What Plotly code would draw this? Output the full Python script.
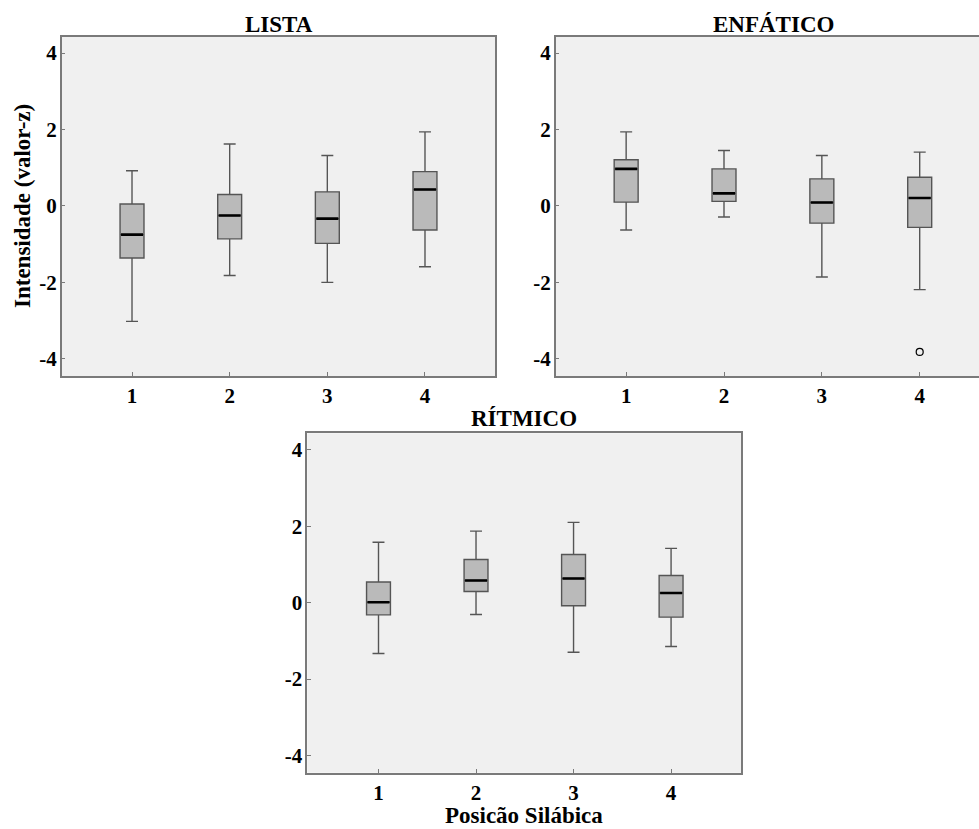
import plotly.graph_objects as go

# Syllable positions and tick labels
positions = [1, 2, 3, 4]
x_labels = ["1", "2", "3", "4"]
y_ticks = [-4, -2, 0, 2, 4]
y_labels = ["-4", "-2", "0", "2", "4"]

# LISTA summary statistics
lista_upper = [0.92, 1.62, 1.32, 1.94]
lista_q3 = [0.05, 0.30, 0.37, 0.90]
lista_median = [-0.75, -0.25, -0.33, 0.43]
lista_q1 = [-1.36, -0.86, -0.98, -0.63]
lista_lower = [-3.02, -1.82, -2.00, -1.59]

# ENFÁTICO summary statistics
enf_upper = [1.94, 1.45, 1.32, 1.41]
enf_q3 = [1.21, 0.97, 0.71, 0.75]
enf_median = [0.97, 0.33, 0.09, 0.21]
enf_q1 = [0.10, 0.12, -0.45, -0.56]
enf_lower = [-0.63, -0.29, -1.86, -2.19]
enf_outlier_x = [4]
enf_outlier_y = [-3.82]

# RÍTMICO summary statistics
rit_upper = [1.58, 1.87, 2.10, 1.42]
rit_q3 = [0.54, 1.13, 1.26, 0.71]
rit_median = [0.01, 0.58, 0.63, 0.25]
rit_q1 = [-0.32, 0.29, -0.08, -0.38]
rit_lower = [-1.33, -0.31, -1.30, -1.15]

W, H = 979, 829
BOX_W = 0.245
FONT = "Liberation Serif"


def px(x):
    return x / W


def py(y):
    return 1 - y / H


fig = go.Figure()

panels = [
    ("x", "y", lista_q1, lista_median, lista_q3, lista_lower, lista_upper),
    ("x2", "y2", enf_q1, enf_median, enf_q3, enf_lower, enf_upper),
    ("x3", "y3", rit_q1, rit_median, rit_q3, rit_lower, rit_upper),
]

for xa, ya, q1, med, q3, lo, hi in panels:
    fig.add_trace(go.Box(
        x=positions, q1=q1, median=med, q3=q3,
        lowerfence=lo, upperfence=hi,
        width=BOX_W, whiskerwidth=0.5,
        fillcolor="#bababa",
        line=dict(color="#555555", width=1.4),
        boxpoints=False, hoverinfo="skip",
        xaxis=xa, yaxis=ya, showlegend=False,
    ))
    # thick black median bars
    mx, my = [], []
    for p, m in zip(positions, med):
        mx += [p - BOX_W / 2 + 0.01, p + BOX_W / 2 - 0.01, None]
        my += [m, m, None]
    fig.add_trace(go.Scatter(
        x=mx, y=my, mode="lines",
        line=dict(color="black", width=2.6),
        xaxis=xa, yaxis=ya, showlegend=False, hoverinfo="skip",
    ))

fig.add_trace(go.Scatter(
    x=enf_outlier_x, y=enf_outlier_y, mode="markers",
    marker=dict(symbol="circle-open", size=7, color="black",
                line=dict(width=1.2, color="black")),
    xaxis="x2", yaxis="y2", showlegend=False, hoverinfo="skip",
))

tickfont = dict(family=FONT, size=21, color="black", weight="bold")
axis_common = dict(
    showgrid=False, zeroline=False, showline=True,
    linecolor="#7a7a7a", linewidth=1.5,
    ticks="inside", ticklen=4, tickcolor="#7a7a7a", tickwidth=1.2,
    tickfont=tickfont,
)
xcommon = dict(tickvals=positions, ticktext=x_labels, ticklabelstandoff=0,
               **axis_common)
ycommon = dict(tickvals=y_ticks, ticktext=y_labels, ticklabelstandoff=-1,
               range=[-4.45, 4.43], **axis_common)

top_dom = [py(376), py(36.7)]
bot_dom = [py(772.7), py(433.3)]

fig.update_layout(
    width=W, height=H,
    margin=dict(l=0, r=0, t=0, b=0),
    paper_bgcolor="white",
    plot_bgcolor="#f0f0f0",
    xaxis=dict(domain=[px(61.7), px(495.3)], range=[0.28, 4.72],
               anchor="y", mirror=True, **xcommon),
    yaxis=dict(domain=top_dom, anchor="x", mirror=True, **ycommon),
    xaxis2=dict(domain=[px(555.7), 1.0], range=[0.28, 4.606],
                anchor="y2", mirror=True, **xcommon),
    yaxis2=dict(domain=top_dom, anchor="x2", mirror=False, **ycommon),
    xaxis3=dict(domain=[px(307.3), px(741.3)], range=[0.27, 4.72],
                anchor="y3", mirror=True, **xcommon),
    yaxis3=dict(domain=bot_dom, anchor="x3", mirror=True, **ycommon),
)

title_font = dict(family=FONT, size=23, color="black", weight="bold")
labels = [
    ("LISTA", 278.5, 24, 0, "middle"),
    ("ENFÁTICO", 773, 24, 0, "middle"),
    ("RÍTMICO", 524.3, 418, 0, "middle"),
    ("Intensidade (valor-z)", 22, 206, -90, "middle"),
    ("Posicão Silábica", 524, 829, 0, "bottom"),
]
for text, x, y, ang, yanc in labels:
    fig.add_annotation(
        text=text, x=px(x), y=py(y), xref="paper", yref="paper",
        showarrow=False, textangle=ang, font=title_font,
        xanchor="center", yanchor=yanc, borderpad=0,
    )

fig.write_html("out.html")
